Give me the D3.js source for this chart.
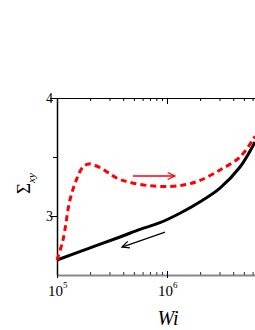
<!DOCTYPE html>
<html><head><meta charset="utf-8">
<script src="https://cdn.jsdelivr.net/npm/d3@7/dist/d3.min.js"></script>
<style>html,body{margin:0;padding:0;background:#fff;}svg{display:block;}</style>
</head><body>
<script>
// data
const blackWi  = [1e5, 2e5, 3.74e5, 5.68e5, 8.63e5, 1.31e6, 2.0e6, 3.03e6, 4.61e6, 6.31e6];
const blackSxy = [2.627, 2.73, 2.822, 2.887, 2.943, 3.023, 3.121, 3.237, 3.415, 3.627];
const redWi  = [1e5, 1.134e5, 1.312e5, 1.52e5, 1.72e5, 1.95e5, 2.46e5, 3.51e5, 4.61e5, 7.0e5, 1.065e6, 1.52e6, 2.0e6, 3.03e6, 4.61e6, 6.31e6];
const redSxy = [2.627, 2.797, 3.136, 3.32, 3.415, 3.441, 3.41, 3.32, 3.285, 3.256, 3.25, 3.268, 3.302, 3.39, 3.5, 3.675];
const redArrowWi = [4.9e5, 1.18e6];
const redArrowS = [3.339, 3.339];
const blackArrowWi = [9.6e5, 3.9e5];
const blackArrowS = [2.864, 2.737];
const xMajor = [1e5, 1e6];
const xMinor = [2e5,3e5,4e5,5e5,6e5,7e5,8e5,9e5,2e6,3e6,4e6,5e6,6e6];
const yMajor = [3, 4];
const yMinor = [3.5];
const xDomain = [1e5, Math.pow(10, 6.8)];
const yDomain = [2.5, 4];

const W = 255, H = 330;
const svg = d3.select("body").append("svg").attr("width", W).attr("height", H);
const x = d3.scaleLog().domain(xDomain).range([57, 255]);
const y = d3.scaleLinear().domain(yDomain).range([275, 98]);
const serif = "'Liberation Serif','Times New Roman',serif";

// bottom axis (gray)
const gb = svg.append("g").attr("transform", `translate(0,${y(yDomain[0])})`);
gb.call(d3.axisBottom(x).tickValues(xMinor).tickSize(-3).tickFormat("").tickSizeOuter(0));
gb.select(".domain").attr("stroke", "#888").attr("stroke-width", 2);
gb.selectAll(".tick line").attr("stroke", "#333");
const gb2 = svg.append("g").attr("transform", `translate(0,${y(yDomain[0])})`);
gb2.call(d3.axisBottom(x).tickValues(xMajor).tickSize(3).tickFormat("").tickSizeOuter(0));
gb2.select(".domain").remove();
gb2.selectAll(".tick line").attr("stroke", "#000").attr("y1", -4);

// top axis
const gt = svg.append("g").attr("transform", `translate(0,${y(yDomain[1])})`);
gt.call(d3.axisTop(x).tickValues(xMinor).tickSize(-3).tickFormat("").tickSizeOuter(0));
gt.select(".domain").attr("stroke", "#000").attr("stroke-width", 1.2);
const gt2 = svg.append("g").attr("transform", `translate(0,${y(yDomain[1])})`);
gt2.call(d3.axisTop(x).tickValues(xMajor).tickSize(-6).tickFormat("").tickSizeOuter(0));
gt2.select(".domain").remove();

// left axis
const gl = svg.append("g").attr("transform", `translate(${x(xDomain[0])},0)`);
gl.call(d3.axisLeft(y).tickValues(yMajor).tickSize(7).tickFormat("").tickSizeOuter(0));
gl.select(".domain").attr("stroke", "#000").attr("stroke-width", 1.5);
const gl2 = svg.append("g").attr("transform", `translate(${x(xDomain[0])},0)`);
gl2.call(d3.axisLeft(y).tickValues(yMinor).tickSize(4).tickFormat("").tickSizeOuter(0));
gl2.select(".domain").remove();

// y tick labels
svg.selectAll(".ylab").data(yMajor).enter().append("text")
  .attr("x", 53).attr("y", d => y(d) + 4.5)
  .attr("text-anchor", "end").attr("font-family", serif).attr("font-size", 14)
  .text(d => d);

// x tick labels 10^n
xMajor.forEach(v => {
  const t = svg.append("text").attr("x", x(v) - 9).attr("y", 296)
    .attr("font-family", serif).attr("font-size", 15);
  t.append("tspan").text("10");
  t.append("tspan").attr("dy", -8).attr("font-size", 9).text(Math.round(Math.log10(v)));
});

// axis titles
svg.append("text").attr("x", 168).attr("y", 325).attr("text-anchor", "middle")
  .attr("font-family", serif).attr("font-style", "italic").attr("font-size", 20).text("Wi");
const yt = svg.append("text").attr("transform", "translate(30,194) rotate(-90)")
  .attr("font-family", serif).attr("font-size", 19);
yt.append("tspan").text("Σ");
yt.append("tspan").attr("dy", 5).attr("font-size", 11).attr("font-style", "italic").text("xy");

// curves
svg.append("path").datum(blackWi.map((w, i) => [w, blackSxy[i]]))
  .attr("d", d3.line().x(d => x(d[0])).y(d => y(d[1])).curve(d3.curveCatmullRom.alpha(0.5)))
  .attr("fill", "none").attr("stroke", "#000").attr("stroke-width", 3);
svg.append("path").datum(redWi.map((w, i) => [w, redSxy[i]]))
  .attr("d", d3.line().x(d => x(d[0])).y(d => y(d[1])).curve(d3.curveCatmullRom.alpha(0.5)))
  .attr("fill", "none").attr("stroke", "#ff0000").attr("stroke-width", 3)
  .attr("stroke-dasharray", "6,4");

// arrows
function arrow(ws, ss, color) {
  const x1 = x(ws[0]), y1 = y(ss[0]), x2 = x(ws[1]), y2 = y(ss[1]);
  svg.append("line").attr("x1", x1).attr("y1", y1).attr("x2", x2).attr("y2", y2)
    .attr("stroke", color).attr("stroke-width", 1.3);
  const a = Math.atan2(y2 - y1, x2 - x1), L = 8, sp = 0.45;
  const p1 = [x2 - L * Math.cos(a - sp), y2 - L * Math.sin(a - sp)];
  const p2 = [x2 - L * Math.cos(a + sp), y2 - L * Math.sin(a + sp)];
  svg.append("path").attr("d", `M${p1}L${x2},${y2}L${p2}`)
    .attr("fill", "none").attr("stroke", color).attr("stroke-width", 1.3);
}
arrow(redArrowWi, redArrowS, "#ff0000");
arrow(blackArrowWi, blackArrowS, "#000");
</script>
</body></html>
